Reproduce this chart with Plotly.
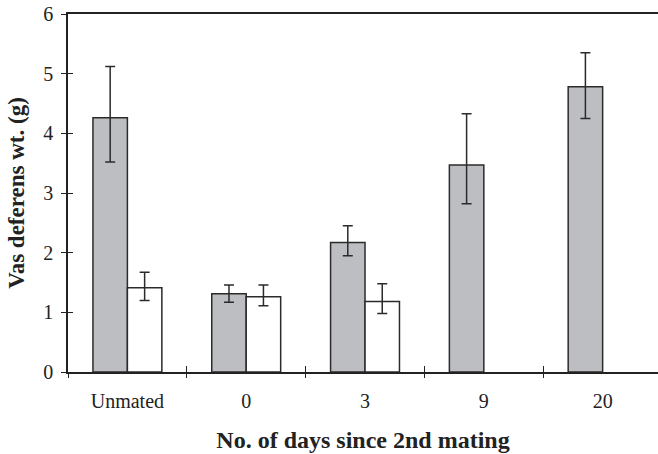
import plotly.graph_objects as go

categories = ["Unmated", "0", "3", "9", "20"]
gray_vals = [4.26, 1.31, 2.17, 3.47, 4.78]
gray_err_hi = [5.12, 1.46, 2.45, 4.33, 5.35]
gray_err_lo = [3.52, 1.17, 1.95, 2.82, 4.25]
white_vals = [1.41, 1.26, 1.18, None, None]
white_err_hi = [1.67, 1.46, 1.48, None, None]
white_err_lo = [1.20, 1.11, 0.98, None, None]

def plus(vals, hi):
    return [None if v is None else h - v for v, h in zip(vals, hi)]

def minus(vals, lo):
    return [None if v is None else v - l for v, l in zip(vals, lo)]

fig = go.Figure()
for vals, hi, lo, color in [
    (gray_vals, gray_err_hi, gray_err_lo, "#bdbec2"),
    (white_vals, white_err_hi, white_err_lo, "#ffffff"),
]:
    fig.add_trace(go.Bar(
        x=categories, y=vals,
        marker=dict(color=color, line=dict(color="#2b2b2b", width=1.5)),
        error_y=dict(type="data", symmetric=False,
                     array=plus(vals, hi), arrayminus=minus(vals, lo),
                     color="#2b2b2b", thickness=1.5, width=5),
        showlegend=False,
    ))

font = "Liberation Serif, Times New Roman, serif"
xr = [-0.5, 4.466]
fig.update_layout(
    width=658, height=454,
    margin=dict(l=68, r=0, t=14, b=82),
    paper_bgcolor="white", plot_bgcolor="white",
    barmode="group", bargap=0.42, bargroupgap=0,
    font=dict(family=font, size=20, color="#222"),
    xaxis=dict(
        type="category", range=xr, tickson="boundaries",
        ticks="outside", ticklen=4, tickwidth=1.2, tickcolor="#222",
        showline=True, linecolor="#222", linewidth=1.5, mirror=True,
        showgrid=False, zeroline=False,
        tickfont=dict(family=font, size=20, color="#222"),
        ticklabelstandoff=10,
        title=dict(text="<b>No. of days since 2nd mating</b>",
                   font=dict(family=font, size=24, color="#222"), standoff=20),
    ),
    xaxis2=dict(
        overlaying="x", anchor="y", side="bottom", range=xr,
        tickvals=[0.5, 1.5, 2.5, 3.5], ticks="inside", ticklen=6,
        tickwidth=1.2, tickcolor="#222", showticklabels=False,
        showgrid=False, zeroline=False, showline=False,
    ),
    yaxis=dict(
        range=[0, 6], dtick=1, ticks="outside", ticklen=5, tickwidth=1.2,
        tickcolor="#222", showline=True, linecolor="#222", linewidth=1.5,
        showgrid=False, zeroline=False,
        tickfont=dict(family=font, size=20, color="#222"),
        ticklabelstandoff=4,
        title=dict(text="<b>Vas deferens wt. (g)</b>",
                   font=dict(family=font, size=23, color="#222"), standoff=12),
    ),
    yaxis2=dict(
        overlaying="y", anchor="x", side="left", range=[0, 6], dtick=1,
        ticks="inside", ticklen=5, tickwidth=1.2, tickcolor="#222",
        showticklabels=False, showgrid=False, zeroline=False, showline=False,
    ),
)
# invisible helper trace to activate overlay axes
fig.add_trace(go.Scatter(x=[0], y=[0], xaxis="x2", yaxis="y2", mode="markers",
                         marker=dict(opacity=0), showlegend=False, hoverinfo="skip"))

fig.write_html("out.html")
